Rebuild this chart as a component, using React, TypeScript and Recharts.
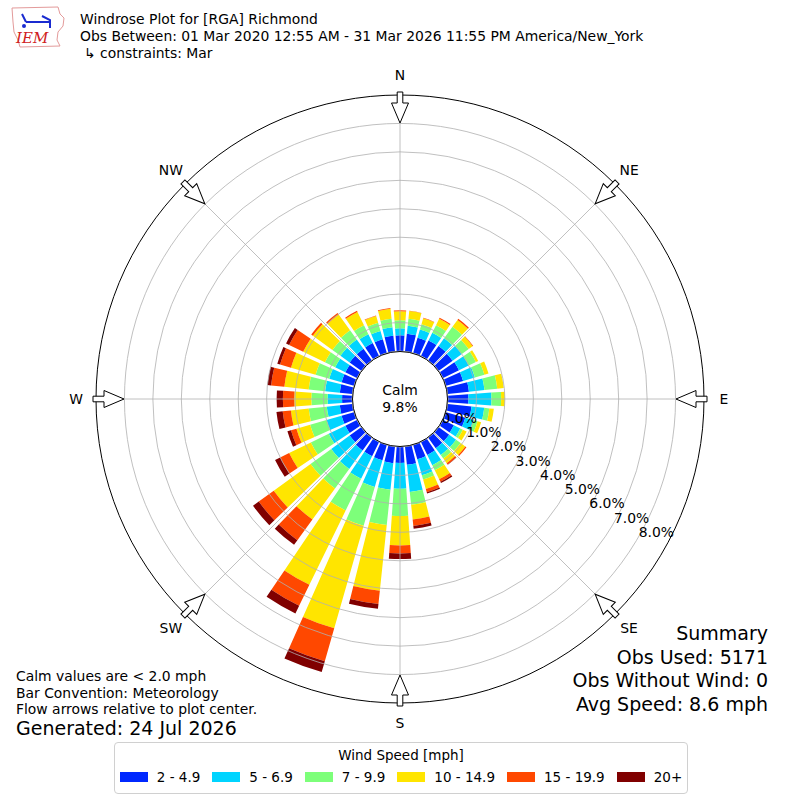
import {
  RadialBarChart,
  RadialBar,
  PolarAngleAxis,
  PolarRadiusAxis,
  PolarGrid,
} from 'recharts'

const FONT = '"DejaVu Sans", Verdana, sans-serif'
const CX = 400
const CY = 399
const R_IN = 48
const R_OUT = 304

// compass direction of each bar (degrees, meteorological convention)
const directions = [
  '0', '10', '20', '30', '40', '50', '60', '70', '80', '90', '100', '110',
  '120', '130', '140', '150', '160', '170', '180', '190', '200', '210', '220', '230',
  '240', '250', '260', '270', '280', '290', '300', '310', '320', '330', '340', '350',
]

// frequency (%) per direction, one array per speed bin
const spd2to5 = [
  0.55, 0.62, 0.55, 0.6, 0.62, 0.6, 0.62, 0.62, 0.75, 0.72, 0.84, 0.7,
  0.42, 0.45, 0.45, 0.5, 0.52, 0.64, 0.56, 0.58, 0.55, 0.55, 0.55, 0.5,
  0.45, 0.45, 0.44, 0.35, 0.44, 0.45, 0.45, 0.5, 0.5, 0.5, 0.5, 0.55,
]
const spd5to7 = [
  0.25, 0.28, 0.3, 0.3, 0.33, 0.4, 0.38, 0.43, 0.55, 0.81, 0.45, 0.3,
  0.25, 0.3, 0.3, 0.4, 0.58, 0.96, 0.91, 0.94, 0.98, 0.88, 0.8, 0.8,
  0.65, 0.55, 0.46, 0.51, 0.52, 0.45, 0.4, 0.4, 0.4, 0.35, 0.3, 0.3,
]
const spd7to10 = [
  0.28, 0.25, 0.2, 0.3, 0.5, 0.3, 0.28, 0.35, 0.45, 0.34, 0.18, 0.15,
  0.1, 0.2, 0.15, 0.2, 0.16, 0.45, 0.96, 1.25, 1.42, 1.24, 0.85, 0.9,
  0.7, 0.6, 0.64, 0.57, 0.58, 0.5, 0.4, 0.35, 0.4, 0.35, 0.3, 0.3,
]
const spd10to15 = [
  0.32, 0.27, 0.22, 0.25, 0.3, 0.17, 0.09, 0.15, 0.23, 0.13, 0.16, 0.13,
  0.15, 0.2, 0.2, 0.35, 0.34, 0.52, 1.03, 2.32, 3.75, 2.91, 1.35, 1.6,
  0.85, 0.5, 0.63, 0.6, 0.86, 0.9, 0.85, 0.85, 0.68, 0.52, 0.25, 0.35,
]
const spd15to20 = [
  0.03, 0.01, 0.01, 0.04, 0.05, 0.02, 0, 0, 0, 0, 0, 0,
  0, 0.05, 0.06, 0.1, 0.12, 0.23, 0.28, 0.47, 1.2, 0.82, 0.9, 0.65,
  0.35, 0.2, 0.29, 0.4, 0.47, 0.4, 0.55, 0.07, 0.07, 0.04, 0.02, 0.03,
]
const spd20plus = [
  0, 0, 0, 0, 0, 0, 0, 0, 0, 0, 0, 0,
  0, 0, 0.01, 0.05, 0.05, 0.1, 0.2, 0.17, 0.4, 0.3, 0.2, 0.25,
  0.2, 0.13, 0.22, 0.22, 0.13, 0.1, 0.12, 0, 0, 0, 0, 0,
]

const binKeys = ['s0', 's1', 's2', 's3', 's4', 's5']
const binLabels = ['2 - 4.9', '5 - 6.9', '7 - 9.9', '10 - 14.9', '15 - 19.9', '20+']
const binColors = ['#0028ff', '#00d4ff', '#7dff7a', '#ffe500', '#ff4800', '#800000']

const compassTicks = [0, 45, 90, 135, 180, 225, 270, 315]
const compassLabels = ['N', 'NE', 'E', 'SE', 'S', 'SW', 'W', 'NW']
const radiusTicks = [0, 1, 2, 3, 4, 5, 6, 7, 8]

const data = directions.map((dir, i) => ({
  dir,
  deg: Number(dir),
  s0: spd2to5[i],
  s1: spd5to7[i],
  s2: spd7to10[i],
  s3: spd10to15[i],
  s4: spd15to20[i],
  s5: spd20plus[i],
}))

function CompassTick(props: any) {
  const { payload } = props
  const a = payload.coordinate
  const idx = compassTicks.indexOf(Number(payload.value))
  const rad = (a * Math.PI) / 180
  const lx = CX + 324 * Math.cos(rad)
  const ly = CY - 324 * Math.sin(rad)
  return (
    <g>
      <polygon
        points="307,-2.8 296,-2.8 296,-8.5 276,0 296,8.5 296,2.8 307,2.8"
        transform={`translate(${CX},${CY}) rotate(${-a})`}
        fill="#fff"
        stroke="#000"
        strokeWidth={1}
      />
      <text
        x={lx}
        y={ly}
        textAnchor="middle"
        dominantBaseline="central"
        fontFamily={FONT}
        fontSize={13.9}
        fill="#000"
      >
        {compassLabels[idx]}
      </text>
    </g>
  )
}

function RadiusTick(props: any) {
  const { x, y, payload } = props
  return (
    <text x={x} y={y} textAnchor="start" fontFamily={FONT} fontSize={13.9} fill="#000">
      {`${Number(payload.value).toFixed(1)}%`}
    </text>
  )
}

const abs = (left: number, top: number, extra: any = {}) => ({
  position: 'absolute' as const,
  left,
  top,
  whiteSpace: 'nowrap' as const,
  ...extra,
})

const baseProps = {
  width: 800,
  height: 800,
  data,
  layout: 'centric' as const,
  cx: CX,
  cy: CY,
  innerRadius: R_IN,
  outerRadius: R_OUT,
  margin: { top: 0, right: 0, bottom: 0, left: 0 },
}

const radiusAxis = (visible: boolean) => (
  <PolarRadiusAxis
    radiusAxisId={0}
    type="number"
    domain={[0, 8.76]}
    allowDataOverflow
    ticks={radiusTicks}
    angle={-30}
    axisLine={false}
    tickLine={false}
    tick={visible ? (p: any) => <RadiusTick {...p} /> : false}
  />
)

export default function App() {
  return (
    <div style={{ position: 'absolute', left: 0, top: 0, width: 800, height: 800, background: '#fff', fontFamily: FONT, color: '#000' }}>
      {/* bars: category band for N spans 85..95 deg so it is centred on north */}
      <div style={abs(0, 0)}>
        <RadialBarChart {...baseProps} startAngle={85} endAngle={-275} barCategoryGap="10%">
          <PolarAngleAxis angleAxisId={0} type="category" dataKey="dir" tick={false} tickLine={false} axisLine={false} />
          {radiusAxis(false)}
          {binKeys.map((k, i) => (
            <RadialBar
              key={k}
              dataKey={k}
              stackId="a"
              angleAxisId={0}
              radiusAxisId={0}
              fill={binColors[i]}
              stroke="none"
              isAnimationActive={false}
            />
          ))}
        </RadialBarChart>
      </div>

      {/* grid, compass and radius labels drawn above the bars */}
      <div style={abs(0, 0)}>
        <RadialBarChart {...baseProps} startAngle={90} endAngle={-270}>
          <PolarAngleAxis
            angleAxisId="compass"
            type="number"
            dataKey="deg"
            domain={[0, 360]}
            allowDataOverflow
            ticks={compassTicks}
            tickLine={false}
            axisLineType="circle"
            axisLine={{ stroke: '#000', strokeWidth: 1 }}
            tick={(p: any) => <CompassTick {...p} />}
          />
          {radiusAxis(true)}
          <PolarGrid angleAxisId="compass" radiusAxisId={0} gridType="circle" stroke="#b0b0b0" strokeWidth={0.8} />
        </RadialBarChart>
      </div>

      {/* calm circle */}
      <div
        style={abs(CX - R_IN, CY - R_IN, {
          width: R_IN * 2,
          height: R_IN * 2,
          borderRadius: '50%',
          border: '1px solid #000',
          background: '#fff',
          boxSizing: 'border-box',
        })}
      />
      <div style={abs(CX - 40, 382, { width: 80, textAlign: 'center', fontSize: 13.9, lineHeight: '17px' })}>
        Calm
        <br />
        9.8%
      </div>

      {/* logo */}
      <svg style={abs(8, 4)} width={58} height={46}>
        <path
          d="M4,4 L50,3 L52,10 L56,14 L55,22 L50,28 L49,36 L52,42 L12,43 L10,36 L6,28 L5,18 Z"
          fill="#fff"
          stroke="#e39a9a"
          strokeWidth={1}
        />
        <path d="M14,10 L18,18 M18,18 L42,18 M34,12 L42,16 L42,24" stroke="#1a2bd0" strokeWidth={2} fill="none" />
        <circle cx={16} cy={22} r={2} fill="#1a2bd0" />
        <text x={8} y={39} fontFamily="'DejaVu Serif', serif" fontStyle="italic" fontSize={15} fill="#d02020">IEM</text>
      </svg>

      {/* title */}
      <div style={abs(80, 11, { fontSize: 13.9, lineHeight: '17px' })}>Windrose Plot for [RGA] Richmond</div>
      <div style={abs(80, 28, { fontSize: 13.9, lineHeight: '17px' })}>
        Obs Between: 01 Mar 2020 12:55 AM - 31 Mar 2026 11:55 PM America/New_York
      </div>
      <div style={abs(84, 45, { fontSize: 13.9, lineHeight: '17px' })}>↳ constraints: Mar</div>

      {/* notes */}
      <div style={abs(16, 668, { fontSize: 13.9, lineHeight: '16.5px' })}>
        Calm values are &lt; 2.0 mph
        <br />
        Bar Convention: Meteorology
        <br />
        Flow arrows relative to plot center.
      </div>
      <div style={abs(16, 717, { fontSize: 19, lineHeight: '23px' })}>Generated: 24 Jul 2026</div>

      {/* summary */}
      <div style={abs(468, 622, { width: 300, textAlign: 'right', fontSize: 19, lineHeight: '23.7px' })}>
        Summary
        <br />
        Obs Used: 5171
        <br />
        Obs Without Wind: 0
        <br />
        Avg Speed: 8.6 mph
      </div>

      {/* legend */}
      <div
        style={abs(114, 742, {
          width: 574,
          height: 52,
          border: '1px solid #d0d0d0',
          borderRadius: 4,
          boxSizing: 'border-box',
          fontSize: 13.5,
        })}
      >
        <div style={{ textAlign: 'center', marginTop: 4, lineHeight: '16px' }}>Wind Speed [mph]</div>
        <div style={{ display: 'flex', justifyContent: 'center', alignItems: 'center', marginTop: 6, lineHeight: '16px' }}>
          {binLabels.map((lab, i) => (
            <div key={lab} style={{ display: 'flex', alignItems: 'center', marginRight: i < binLabels.length - 1 ? 12 : 0 }}>
              <span style={{ display: 'inline-block', width: 28, height: 10, background: binColors[i], marginRight: 9 }} />
              <span>{lab}</span>
            </div>
          ))}
        </div>
      </div>
    </div>
  )
}
